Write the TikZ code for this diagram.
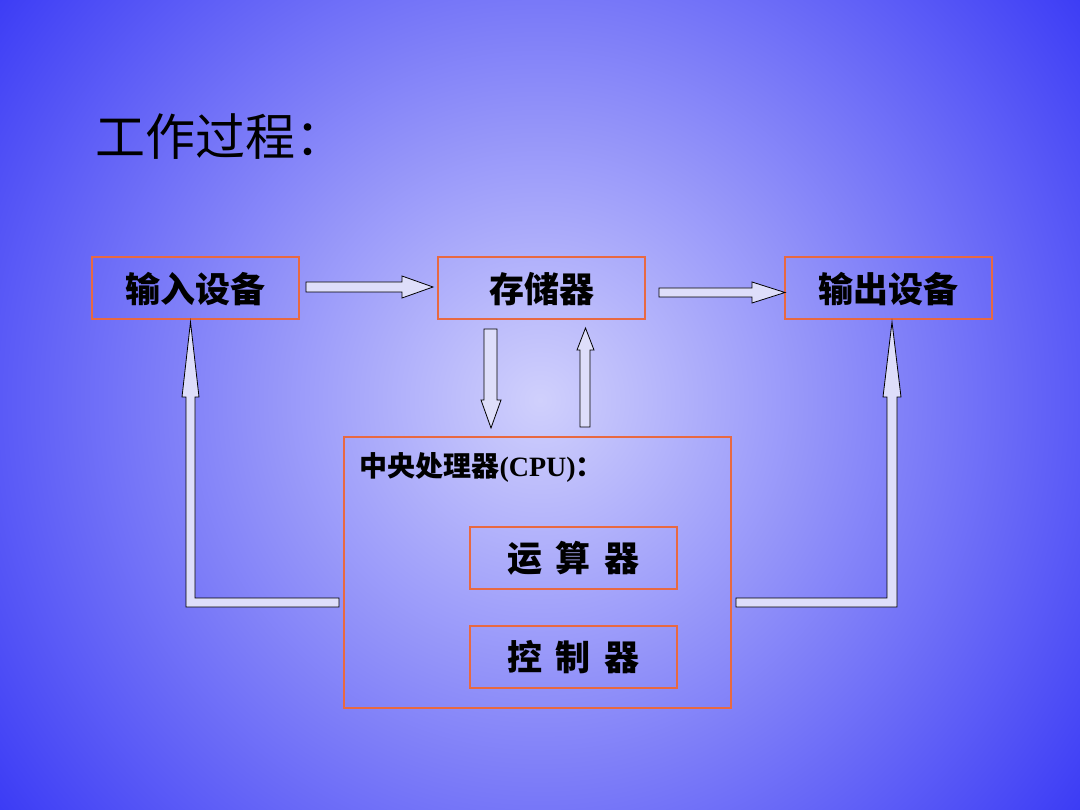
\documentclass[tikz,border=0pt]{standalone}
\usepackage{fontspec}
\newfontfamily\cjk{Noto Sans CJK SC}
\newfontfamily\tms{Liberation Serif}
\definecolor{bgout}{RGB}{55,55,245}
\definecolor{bgin}{RGB}{208,208,252}
\definecolor{boxc}{RGB}{232,105,65}
\definecolor{arrf}{RGB}{222,222,250}
\tikzset{
 bx/.style={draw=boxc,line width=1.2pt},
 ar/.style={draw=black,fill=arrf,line width=0.8pt,line join=miter},
 lbl/.style={font=\cjk\bfseries\fontsize{35}{38}\selectfont,text=black}
}
\begin{document}
\begin{tikzpicture}[x=1pt,y=-1pt]
\useasboundingbox (0,0) rectangle (1080,810);
\begin{scope}
\clip (0,0) rectangle (1080,810);
\shade[inner color=bgin,outer color=bgout] (540,400) circle (700);
\end{scope}
\node[anchor=base west,font=\cjk\fontsize{50}{54}\selectfont] (title) at (92,156) {工作过程：};
% boxes
\draw[bx] (92,257) rectangle (299,319);
\node[lbl] (in) at (195.5,289) {输入设备};
\draw[bx] (438,257) rectangle (645,319);
\node[lbl] (mem) at (541.5,289) {存储器};
\draw[bx] (785,257) rectangle (992,319);
\node[lbl] (out) at (888.5,289) {输出设备};
\draw[bx] (344,437) rectangle (731,708);
\node[anchor=base west,font=\bfseries\fontsize{28}{30}\selectfont] (cpu) at (356,477) {\cjk 中央处理器\tms(CPU)\cjk：};
\draw[bx] (470,527) rectangle (677,589);
\node[lbl] (alu) at (573.5,558) {运\hspace{0.4em}算\hspace{0.4em}器};
\draw[bx] (470,626) rectangle (677,688);
\node[lbl] (cu) at (573.5,657) {控\hspace{0.4em}制\hspace{0.4em}器};
% arrows
\draw[ar] (306,282)--(402,282)--(402,276)--(433,287)--(402,298)--(402,292)--(306,292)--cycle;
\draw[ar] (659,288)--(752,288)--(752,282)--(785,292.5)--(752,303)--(752,297)--(659,297)--cycle;
\draw[ar] (484,329)--(497,329)--(497,400)--(501,400)--(491,428)--(481,400)--(484,400)--cycle;
\draw[ar] (580,427)--(590,427)--(590,350)--(594,350)--(585.5,328)--(577,350)--(580,350)--cycle;
\draw[ar] (339,598)--(195,598)--(195,397)--(199,397)--(190.5,322)--(182,397)--(186,397)--(186,607)--(339,607)--cycle;
\draw[ar] (736,598)--(887,598)--(887,397)--(883,397)--(892,322)--(901,397)--(897,397)--(897,607)--(736,607)--cycle;
\end{tikzpicture}
\end{document}
